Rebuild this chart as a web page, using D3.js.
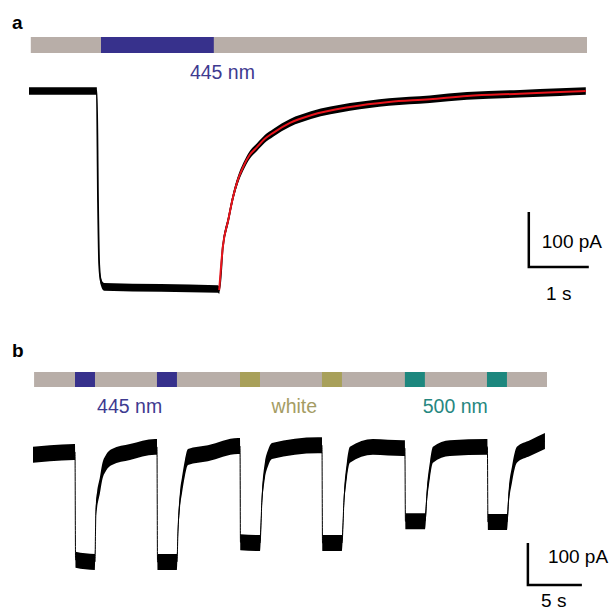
<!DOCTYPE html>
<html lang="en">
<head>
<meta charset="UTF-8">
<title>Photocurrent traces</title>
<script src="https://d3js.org/d3.v7.min.js"></script>
<style>
body { margin: 0; background: #fff; }
svg text { font-family: "Liberation Sans", Arial, sans-serif; }
</style>
</head>
<body>
<svg width="610" height="615"></svg>
<script>
// panel a: single 445 nm step, time in s, current in pA
const aTime = [0, 1.13, 1.15, 1.17, 1.2, 1.25, 3.15, 3.17, 3.23, 3.32, 3.4, 3.48, 3.57, 3.68, 3.8, 3.93, 4.07, 4.35, 4.7, 5.35, 6.0, 6.68, 7.3, 8.18, 8.85, 9.28];
const aCurrent = [0, 0, -198, -316, -347, -356, -360, -362, -284, -235, -193, -162, -138, -116, -102, -87, -76, -58, -44, -29, -20, -15, -9, -5, -2, 0];
const aFitTime = [3.17, 3.23, 3.32, 3.4, 3.48, 3.57, 3.68, 3.8, 3.93, 4.07, 4.35, 4.7, 5.35, 6.0, 6.68, 7.3, 8.18, 8.85, 9.28];
const aFitCurrent = [-362, -284, -235, -193, -162, -138, -116, -102, -87, -76, -58, -44, -29, -20, -15, -9, -5, -2, 0];
const aNoise = 7;          // pA, half width of the noise band
const aPulse = [1.2, 3.08]; // light on / off
const aPulseLabel = "445 nm";

// panel b: repeated pulses of three lights
const bTime = [0, 1.57, 3.8, 3.89, 3.94, 5.74, 5.79, 5.83, 5.93, 6.2, 6.39, 6.76, 7.31, 8.98, 11.3,
  11.48, 11.53, 13.33, 13.43, 13.61, 13.8, 14.07, 14.35, 16.2, 18.98,
  19.17, 19.21, 21.02, 21.2, 21.48, 21.76, 22.13, 26.39,
  26.76, 26.81, 28.61, 28.8, 29.07, 29.35, 31.48, 34.26,
  34.44, 34.49, 36.3, 36.48, 36.76, 37.04, 38.61, 42.04,
  42.08, 42.13, 43.89, 44.07, 44.35, 44.81, 46.02, 47.41];
const bCurrent = [-2, 2, 5, 5, -252, -257, -181, -133, -110, -74, -45, -21, -7, 5, 17,
  17, -257, -257, -181, -110, -74, -33, -7, 2, 19,
  19, -210, -212, -110, -38, -10, 7, 21,
  21, -212, -212, -110, -38, -2, 17, 14,
  14, -160, -160, -98, -38, -2, 14, 17,
  17, -162, -162, -98, -50, -2, 14, 31];
const bNoise = 19;
const bPulseOn = [3.89, 11.48, 19.17, 26.76, 34.44, 42.04];
const bPulseLen = 1.85;
const bPulseLight = ["445", "445", "white", "white", "500", "500"];
const bLabels = ["445 nm", "white", "500 nm"];
const bLabelTime = [8.95, 24.2, 39.1];
const bLabelLight = ["445", "white", "500"];

const lightColor = { "445": "#37318c", "white": "#a8a05a", "500": "#1d877e" };
const textColor = { "445": "#3e3a90", "white": "#a49c64", "500": "#26877f" };
const barGray = "#b8aea8";

const svg = d3.select("svg");

// ---------- panel a ----------
const xa = d3.scaleLinear().domain([0, 9.3]).range([29, 587]);
const ya = d3.scaleLinear().domain([-400, 0]).range([311, 91]);

svg.append("text").attr("x", 12).attr("y", 29)
  .attr("font-size", 19).attr("font-weight", "bold").text("a");

svg.append("rect")
  .attr("x", xa(0.03)).attr("y", 37)
  .attr("width", xa(9.3) - xa(0.03)).attr("height", 16)
  .attr("fill", barGray);
svg.append("rect")
  .attr("x", xa(aPulse[0])).attr("y", 37)
  .attr("width", xa(aPulse[1]) - xa(aPulse[0])).attr("height", 16)
  .attr("fill", lightColor["445"]);
svg.append("text")
  .attr("x", xa((aPulse[0] + aPulse[1]) / 2) + 65).attr("y", 79)
  .attr("text-anchor", "middle").attr("font-size", 19.5)
  .attr("fill", textColor["445"]).text(aPulseLabel);

const aData = aTime.map((t, i) => ({ t: t, v: aCurrent[i] }));
const aFit = aFitTime.map((t, i) => ({ t: t, v: aFitCurrent[i] }));

svg.append("path")
  .datum(aData)
  .attr("fill", "#000")
  .attr("d", d3.area()
    .x(d => xa(d.t))
    .y0(d => ya(d.v - aNoise))
    .y1(d => ya(d.v + aNoise))
    .curve(d3.curveMonotoneX));
svg.append("path")
  .datum(aData)
  .attr("fill", "none").attr("stroke", "#000").attr("stroke-width", 1.8)
  .attr("d", d3.line().x(d => xa(d.t)).y(d => ya(d.v)).curve(d3.curveMonotoneX));
svg.append("path")
  .datum(aFit)
  .attr("fill", "none").attr("stroke", "#e8141c").attr("stroke-width", 2)
  .attr("d", d3.line().x(d => xa(d.t)).y(d => ya(d.v)).curve(d3.curveMonotoneX));

// scale bar a: 1 s, 100 pA
const sbA = { t: 8.33, v: -320 };
svg.append("path")
  .attr("fill", "none").attr("stroke", "#000").attr("stroke-width", 2.5)
  .attr("d", "M" + xa(sbA.t) + "," + ya(sbA.v + 100) +
    "V" + ya(sbA.v) + "H" + xa(sbA.t + 1));
svg.append("text").attr("x", xa(sbA.t) + 13).attr("y", 248)
  .attr("font-size", 19).text("100 pA");
svg.append("text").attr("x", xa(sbA.t + 0.5)).attr("y", 300)
  .attr("text-anchor", "middle").attr("font-size", 19).text("1 s");

// ---------- panel b ----------
const xb = d3.scaleLinear().domain([0, 47.6]).range([33, 547]);
const yb = d3.scaleLinear().domain([-300, 0]).range([580, 454]);

svg.append("text").attr("x", 12).attr("y", 357)
  .attr("font-size", 19).attr("font-weight", "bold").text("b");

svg.append("rect")
  .attr("x", xb(0.1)).attr("y", 372)
  .attr("width", xb(47.6) - xb(0.1)).attr("height", 15)
  .attr("fill", barGray);
svg.selectAll("rect.pulse")
  .data(bPulseOn)
  .enter().append("rect")
    .attr("class", "pulse")
    .attr("x", d => xb(d))
    .attr("y", 372)
    .attr("width", xb(bPulseLen) - xb(0))
    .attr("height", 15)
    .attr("fill", (d, i) => lightColor[bPulseLight[i]]);
svg.selectAll("text.plabel")
  .data(bLabels)
  .enter().append("text")
    .attr("class", "plabel")
    .attr("x", (d, i) => xb(bLabelTime[i]))
    .attr("y", 413)
    .attr("text-anchor", "middle")
    .attr("font-size", 19.5)
    .attr("fill", (d, i) => textColor[bLabelLight[i]])
    .text(d => d);

const bData = bTime.map((t, i) => ({ t: t, v: bCurrent[i] }));
svg.append("path")
  .datum(bData)
  .attr("fill", "#000")
  .attr("d", d3.area()
    .x(d => xb(d.t))
    .y0(d => yb(d.v - bNoise))
    .y1(d => yb(d.v + bNoise))
    .curve(d3.curveMonotoneX));
svg.append("path")
  .datum(bData)
  .attr("fill", "none").attr("stroke", "#000").attr("stroke-width", 1)
  .attr("d", d3.line().x(d => xb(d.t)).y(d => yb(d.v)).curve(d3.curveMonotoneX));

// scale bar b: 5 s, 100 pA
const sbB = { t: 45.83, v: -312 };
svg.append("path")
  .attr("fill", "none").attr("stroke", "#000").attr("stroke-width", 2.5)
  .attr("d", "M" + xb(sbB.t) + "," + yb(sbB.v + 100) +
    "V" + yb(sbB.v) + "H" + xb(sbB.t + 5));
svg.append("text").attr("x", xb(sbB.t) + 20).attr("y", 563)
  .attr("font-size", 19).text("100 pA");
svg.append("text").attr("x", xb(sbB.t + 2.4)).attr("y", 607)
  .attr("text-anchor", "middle").attr("font-size", 19).text("5 s");
</script>
</body>
</html>
